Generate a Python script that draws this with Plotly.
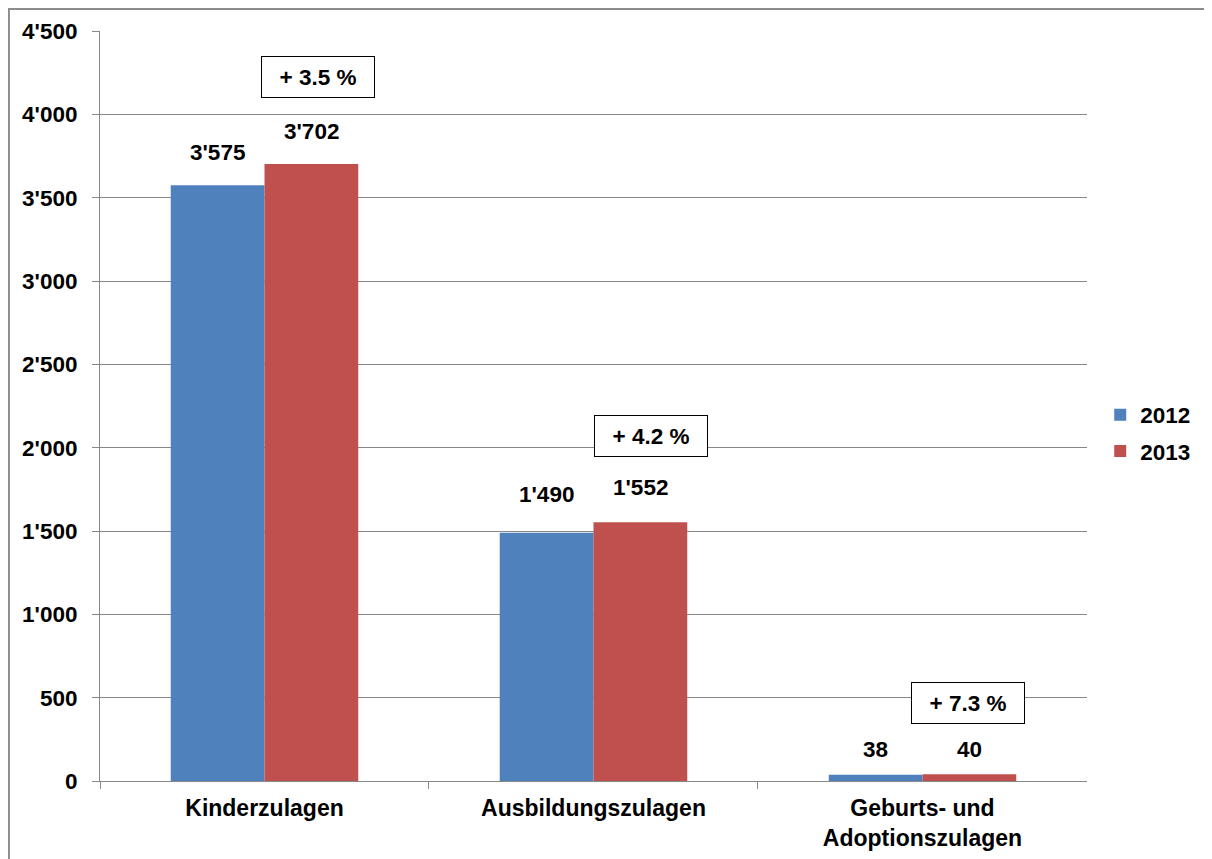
import plotly.graph_objects as go

categories = ["Kinderzulagen", "Ausbildungszulagen", "Geburts- und<br>Adoptionszulagen"]
years = ["2012", "2013"]
values_2012 = [3575, 1490, 38]
values_2013 = [3702, 1552, 40]
changes = ["+ 3.5 %", "+ 4.2 %", "+ 7.3 %"]
change_y = [4224, 2070, 468]
y_ticks = [0, 500, 1000, 1500, 2000, 2500, 3000, 3500, 4000, 4500]

# styling
change_dx = [0.164, 0.176, 0.137]
colors = ["#4F81BD", "#C0504D"]
FONT = "Liberation Sans, Arial, sans-serif"
FS = 22.5
BARGAP = 0.43
label_shift = [[33, 38, 25], [33, 35, 25]]

fig = go.Figure()
series = [values_2012, values_2013]
for name, vals, col in zip(years, series, colors):
    fig.add_trace(go.Bar(
        name=name, x=categories, y=vals, marker_color=col, marker_line_width=0,
        legendgroup=name,
    ))

half = (1 - BARGAP) / 4
for s, vals in enumerate(series):
    off = -half if s == 0 else half
    for i, v in enumerate(vals):
        fig.add_annotation(
            x=i + off, y=v, xref="x", yref="y", text=f"{v:,}".replace(",", "'"),
            showarrow=False, yshift=label_shift[s][i], yanchor="middle",
            font=dict(family=FONT, size=FS, color="black", weight="bold"),
        )

for i, (txt, yv, dx) in enumerate(zip(changes, change_y, change_dx)):
    fig.add_annotation(
        x=i + dx, y=yv, xref="x", yref="y", text=txt, showarrow=False,
        font=dict(family=FONT, size=FS, color="black", weight="bold"),
        bordercolor="black", borderwidth=1, bgcolor="white",
        width=110, height=38,
    )

# outer chart border
fig.add_shape(type="rect", xref="paper", yref="paper",
              x0=-0.0825, x1=1.2, y0=-0.3, y1=1.0293,
              line=dict(color="#8c8c8c", width=2), layer="below")

fig.update_layout(
    width=1204, height=851,
    margin=dict(l=92, r=8, t=23, b=78, autoexpand=False),
    paper_bgcolor="white", plot_bgcolor="white",
    separators=".'",
    barmode="group", bargap=BARGAP, bargroupgap=0,
    showlegend=True,
    legend=dict(x=0.906, y=0.464, yanchor="middle", xanchor="left",
                font=dict(family=FONT, size=FS, color="black", weight="bold"),
                itemwidth=30, tracegroupgap=4),
    font=dict(family=FONT, size=FS, color="black"),
)
fig.update_yaxes(
    range=[0, 4500], tickvals=y_ticks, tickformat=",d",
    tickfont=dict(family=FONT, size=FS, color="black", weight="bold"),
    showgrid=True, gridcolor="#878787", gridwidth=1,
    showline=True, linecolor="#878787", linewidth=1,
    ticks="outside", ticklen=7, tickcolor="#878787",
    ticklabelstandoff=10, automargin=False,
    zeroline=False,
)
fig.update_xaxes(
    domain=[0, 0.894],
    tickfont=dict(family=FONT, size=23, color="black", weight="bold"),
    showline=True, linecolor="#878787", linewidth=1,
    ticks="outside", ticklen=7, tickcolor="#878787", tickson="boundaries",
    ticklabelstandoff=6, automargin=False,
    showgrid=False,
)

fig.write_html("out.html")
